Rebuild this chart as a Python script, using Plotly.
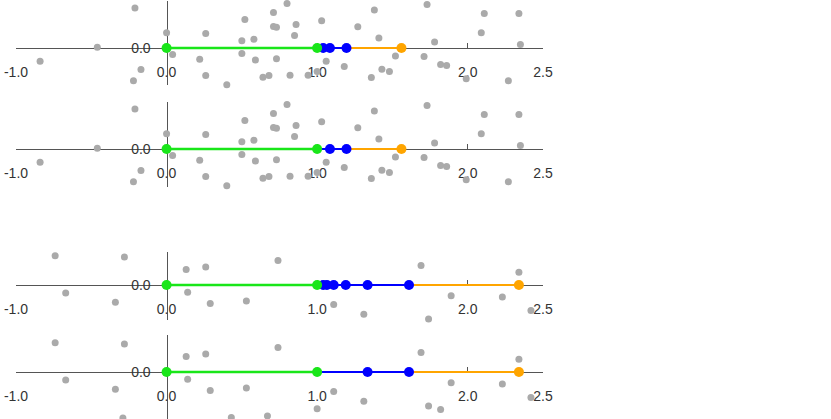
import plotly.graph_objects as go

# grey cloud behind the two upper panels (same points in both)
cloud_a_x = [-0.21, 0.80, 1.73, 0.71, 1.38, 2.11, 2.34, 0.52, 1.03, 0.71, 0.73, 0.86, 1.27,
             0.00, 0.26, 0.85, 2.09, 0.50, 0.58, 1.41, 1.78, 2.35, -0.46, 0.04, 0.50, -0.84,
             0.22, 0.59, 0.73, 1.06, 1.52, 1.71, 2.58, -0.17, 1.18, 1.43, 1.48, 1.82, 1.86,
             1.00, -0.22, 0.26, 0.64, 0.68, 0.82, 0.94, 1.36, 1.99, 2.27, -0.44, 0.40, 1.12,
             1.37, 1.54, 1.73, 2.05]
cloud_a_y = [1.00, 1.11, 1.09, 0.89, 0.95, 0.86, 0.86, 0.71, 0.68, 0.54, 0.52, 0.59, 0.53,
             0.38, 0.36, 0.31, 0.38, 0.18, 0.22, 0.25, 0.15, 0.09, 0.02, -0.16, -0.14, -0.33,
             -0.28, -0.30, -0.27, -0.33, -0.20, -0.21, -0.26, -0.54, -0.46, -0.53, -0.59, -0.41, -0.44,
             -0.59, -0.82, -0.69, -0.73, -0.69, -0.68, -0.68, -0.74, -0.77, -0.82, -0.97, -0.92, -1.02,
             -1.00, -1.03, -0.97, -1.04]

# grey cloud behind the two lower panels
cloud_b_x = [-0.74, -0.28, 0.74, 0.13, 0.26, 1.69, 2.34, -0.67, 0.14, -0.34, 0.29, 0.53, 1.89,
             2.23, 1.11, 1.31, 2.42, -1.03, 1.00, 1.74, 1.82, -0.29, 0.37, 0.43, 0.67, 1.62]
cloud_b_y = [0.73, 0.70, 0.61, 0.39, 0.45, 0.49, 0.32, -0.20, -0.18, -0.43, -0.46, -0.40, -0.27,
             -0.30, -0.49, -0.73, -0.64, -0.88, -0.92, -0.85, -0.94, -1.15, -1.21, -1.14, -1.10, -1.22]

green_x = [0.0, 1.0]
blue_x = [[1.04, 1.085, 1.195],
          [1.085, 1.195],
          [1.04, 1.065, 1.11, 1.19, 1.335, 1.61],
          [1.335, 1.61]]
orange_x = [1.56, 1.56, 2.34, 2.34]

x_tickvals = [-1.0, 0.0, 1.0, 2.0, 2.5]
x_ticktext = ["-1.0", "0.0", "1.0", "2.0", "2.5"]

W, H = 831, 419
X_LEFT, X_RIGHT = 16.0, 543.0   # pixel of x=-1 and x=2.5
PX = 40.0                        # pixels per y unit
# top, axis, bottom of each panel, then the band where grey dots show
panels = [(1, 48, 85, -6, 93),
          (102, 149, 187, 100, 193),
          (252, 285, 320, 249, 327),
          (335, 372, 419, 336, 426)]
clouds = [(cloud_a_x, cloud_a_y), (cloud_a_x, cloud_a_y),
          (cloud_b_x, cloud_b_y), (cloud_b_x, cloud_b_y)]

GREEN, BLUE, ORANGE, GREY = "#19e619", "#0000ff", "#ffa500", "#aaaaaa"
AXIS = "#555555"
font = dict(family="Liberation Sans, Arial, sans-serif", size=14, color="#333333")

fig = go.Figure()
x0_paper = (X_LEFT + (X_RIGHT - X_LEFT) / 3.5) / W

for i, (top, ax, bot, ctop, cbot) in enumerate(panels):
    n = "" if i == 0 else str(i + 1)
    xr, yr = "x" + n, "y" + n
    cx, cy = clouds[i]
    keep = [(a, b) for a, b in zip(cx, cy) if ctop <= ax - b * PX <= cbot]
    fig.add_trace(go.Scatter(x=[k[0] for k in keep], y=[k[1] for k in keep], mode="markers",
                             marker=dict(size=7, color=GREY), cliponaxis=False,
                             xaxis=xr, yaxis=yr))
    bx = blue_x[i]
    fig.add_trace(go.Scatter(x=[bx[-1], orange_x[i]], y=[0, 0], mode="lines",
                             line=dict(color=ORANGE, width=2), xaxis=xr, yaxis=yr))
    fig.add_trace(go.Scatter(x=[green_x[-1]] + bx, y=[0] * (len(bx) + 1), mode="lines",
                             line=dict(color=BLUE, width=2), xaxis=xr, yaxis=yr))
    fig.add_trace(go.Scatter(x=green_x, y=[0, 0], mode="lines",
                             line=dict(color=GREEN, width=2.5), xaxis=xr, yaxis=yr))
    fig.add_trace(go.Scatter(x=[orange_x[i]], y=[0], mode="markers", cliponaxis=False,
                             marker=dict(size=10, color=ORANGE), xaxis=xr, yaxis=yr))
    fig.add_trace(go.Scatter(x=bx, y=[0] * len(bx), mode="markers", cliponaxis=False,
                             marker=dict(size=10, color=BLUE), xaxis=xr, yaxis=yr))
    fig.add_trace(go.Scatter(x=green_x, y=[0, 0], mode="markers", cliponaxis=False,
                             marker=dict(size=10, color=GREEN), xaxis=xr, yaxis=yr))

    fig.layout["xaxis" + n] = dict(
        domain=[X_LEFT / W, X_RIGHT / W], range=[-1, 2.5], anchor="free",
        position=1 - ax / H, showline=True, linecolor=AXIS, linewidth=1.3,
        ticks="inside", ticklen=5, tickcolor=AXIS, tickwidth=1.3, tickvals=x_tickvals,
        ticktext=x_ticktext, showgrid=False, zeroline=False, tickfont=font,
        ticklabelstandoff=11, layer="below traces", fixedrange=True, automargin=False)
    fig.layout["yaxis" + n] = dict(
        domain=[1 - bot / H, 1 - top / H], range=[-(bot - ax) / PX, (ax - top) / PX],
        anchor="free", position=x0_paper, showline=True, linecolor=AXIS, linewidth=1.3,
        ticks="", tickvals=[0], ticktext=["0.0"], showgrid=False, zeroline=False,
        tickfont=font, ticklabelstandoff=13, layer="below traces", fixedrange=True,
        automargin=False)

fig.update_layout(width=W, height=H, margin=dict(l=0, r=0, t=0, b=0),
                  plot_bgcolor="white", paper_bgcolor="white", showlegend=False)
fig.write_html("out.html", config={"displayModeBar": False},
               post_script="document.body.style.margin = '0';")
